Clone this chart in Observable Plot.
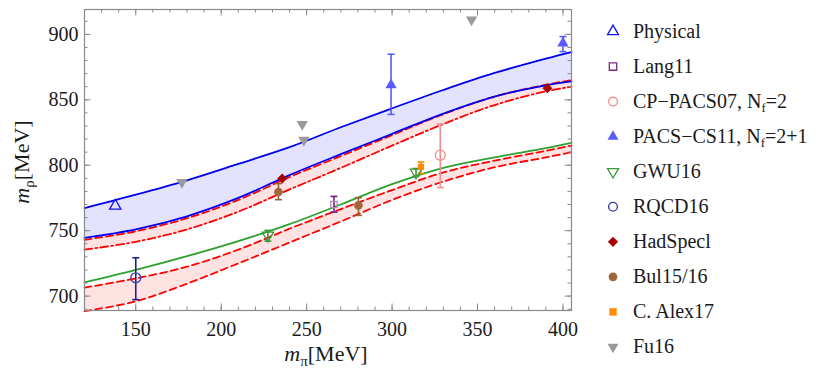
<!DOCTYPE html>
<html><head><meta charset="utf-8">
<script src="https://cdn.jsdelivr.net/npm/d3@7"></script>
<script src="https://cdn.jsdelivr.net/npm/@observablehq/plot@0.6"></script>
<style>
body{margin:0;background:#fff;}
#wrap{position:relative;width:830px;height:371px;}
#wrap svg{position:absolute;left:0;top:0;}
#wrap svg text{font-family:"Liberation Serif","Times New Roman",serif;}
</style></head><body><div id="wrap"></div>
<script>
// ---- curve data (m_pi in MeV -> m_rho in MeV) ----
const gridX      = [120, 150, 180, 210, 240, 270, 300, 330, 360, 390, 405];
const blueUpper  = [767.3, 777.5, 788.5, 801, 813.8, 829, 843.5, 857.5, 870.5, 881.5, 886.5];
const blueLower  = [744.5, 751, 761, 775, 792.5, 808.5, 824, 839.5, 852.5, 861, 864];
const redTopDash = [743, 749.5, 759.5, 773.5, 791, 807, 823, 839, 852.5, 861.5, 865];
const redTopDot  = [735.5, 741.5, 751, 764.5, 781.5, 798, 815, 831.5, 846, 856.5, 860];
const green      = [710.5, 720, 730.5, 742, 755, 770, 785.5, 798, 806, 813, 817];
const redLowUp   = [706.5, 713.5, 722.5, 735.5, 751.5, 766.5, 781, 794.5, 803.5, 811, 815];
const redLowDown = [688.5, 696, 709.5, 725, 741, 757, 773.5, 787.5, 798.5, 806, 810];

// ---- lattice points: [m_pi, m_rho, low, high] ----
const physical = [[138, 769]];
const lang11   = [[266, 770, 764.2, 776.2]];
const cppacs07 = [[328.2, 807.7, 782.9, 831.4]];
const pacscs11 = [[299.4, 861.3, 838.8, 884.8], [400, 893.3, 886.8, 898.3]];
const gwu16    = [[227.3, 746.4, 742, 750.2], [314, 794.5, 791.5, 797.5]];
const rqcd16   = [[150, 714, 697.3, 729.3]];
const hadspec  = [[235.7, 789.8], [390.9, 858.8]];
const bul1516  = [[233.5, 779.5, 773.7, 786], [280.3, 769.3, 761.7, 775.2]];
const alex17   = [[316.9, 798.7, 793.6, 802.5]];
const fu16     = [[177, 787], [248.4, 819.2], [247.4, 831.4], [346.5, 911.1]];

const xMajor = [150, 200, 250, 300, 350, 400];
const xMinor = d3.range(120, 406, 10);
const yMajor = [700, 750, 800, 850, 900];
const yMinor = d3.range(690, 920, 10);

const legendItems = [
  {label: ["Physical"], sym: "triangle", fill: "none", stroke: "#1010f0"},
  {label: ["Lang11"], sym: "square", fill: "none", stroke: "#7a2a7a"},
  {label: ["CP\u2212PACS07, N", "f", "=2"], sym: "circle", fill: "none", stroke: "#f09090"},
  {label: ["PACS\u2212CS11, N", "f", "=2+1"], sym: "triangle", fill: "#5a5aff", stroke: "none"},
  {label: ["GWU16"], sym: "triangleDown", fill: "none", stroke: "#3a9a3a"},
  {label: ["RQCD16"], sym: "circle", fill: "none", stroke: "#3030b0"},
  {label: ["HadSpecl"], sym: "diamond", fill: "#aa0000", stroke: "none"},
  {label: ["Bul15/16"], sym: "circle", fill: "#a0673c", stroke: "none"},
  {label: ["C. Alex17"], sym: "square", fill: "#ff8c00", stroke: "none"},
  {label: ["Fu16"], sym: "triangleDown", fill: "#9a9a9a", stroke: "none"}
];

// ---- build tables ----
const curves = gridX.map((x, i) => ({x, bu: blueUpper[i], bl: blueLower[i], rtd: redTopDash[i], rtt: redTopDot[i],
  g: green[i], rlu: redLowUp[i], rld: redLowDown[i]}));
const toPts = arr => arr.map(d => ({x: d[0], y: d[1], lo: d[2], hi: d[3]}));
const withErr = arr => toPts(arr).filter(d => d.lo !== undefined);

const cap = {draw(ctx) { ctx.moveTo(-3.5, 0); ctx.lineTo(3.5, 0); }};
function errBars(arr, color) {
  const e = withErr(arr);
  return [
    Plot.ruleX(e, {x: "x", y1: "lo", y2: "hi", stroke: color, strokeWidth: 1.6}),
    Plot.dot(e, {x: "x", y: "lo", symbol: cap, stroke: color, strokeWidth: 1.6, r: 3}),
    Plot.dot(e, {x: "x", y: "hi", symbol: cap, stroke: color, strokeWidth: 1.6, r: 3})
  ];
}

const W = 830, H = 371;
const mL = 84, mR = 830 - 571, mT = 9, mB = 371 - 310;
const innerH = H - mT - mB, innerW = W - mL - mR;
const frameColor = "#8a8a8a";

const svg = Plot.plot({
  width: W, height: H,
  marginLeft: mL, marginRight: mR, marginTop: mT, marginBottom: mB,
  x: {domain: [120, 405]},
  y: {domain: [689, 919]},
  style: {fontFamily: "Liberation Serif, serif", fontSize: "20px", color: "#1a1a1a", background: "transparent"},
  marks: [
    // bands
    Plot.areaY(curves, {x: "x", y1: "bl", y2: "bu", fill: "#0000ff", fillOpacity: 0.11, curve: "catmull-rom"}),
    Plot.areaY(curves, {x: "x", y1: "rtt", y2: "rtd", fill: "#ff0000", fillOpacity: 0.11, curve: "catmull-rom"}),
    Plot.areaY(curves, {x: "x", y1: "rld", y2: "rlu", fill: "#ff0000", fillOpacity: 0.11, curve: "catmull-rom"}),
    // lines
    Plot.line(curves, {x: "x", y: "rtd", stroke: "#ff0000", strokeWidth: 1.8, strokeDasharray: "7,4", curve: "catmull-rom"}),
    Plot.line(curves, {x: "x", y: "rtt", stroke: "#ff0000", strokeWidth: 1.8, strokeDasharray: "8,3,2,3", curve: "catmull-rom"}),
    Plot.line(curves, {x: "x", y: "bu", stroke: "#0000ee", strokeWidth: 1.8, curve: "catmull-rom"}),
    Plot.line(curves, {x: "x", y: "bl", stroke: "#0000ee", strokeWidth: 1.8, curve: "catmull-rom"}),
    Plot.line(curves, {x: "x", y: "g", stroke: "#2ea02e", strokeWidth: 1.8, curve: "catmull-rom"}),
    Plot.line(curves, {x: "x", y: "rlu", stroke: "#ff0000", strokeWidth: 1.8, strokeDasharray: "7,4", curve: "catmull-rom"}),
    Plot.line(curves, {x: "x", y: "rld", stroke: "#ff0000", strokeWidth: 1.8, strokeDasharray: "7,4", curve: "catmull-rom"}),
    // error bars
    ...errBars(lang11, "#7a1a7a"),
    ...errBars(cppacs07, "#f09090"),
    ...errBars(pacscs11, "#5a5aff"),
    ...errBars(gwu16, "#3a9a3a"),
    ...errBars(rqcd16, "#20208a"),
    ...errBars(bul1516, "#9a6030"),
    ...errBars(alex17, "#ff8c00"),
    // points
    Plot.dot(toPts(physical), {x: "x", y: "y", symbol: "triangle", r: 4.2, stroke: "#1010f0", fill: "none", strokeWidth: 1.3}),
    Plot.dot(toPts(lang11), {x: "x", y: "y", symbol: "square", r: 3.6, stroke: "#b888b8", fill: "none", strokeWidth: 1.3}),
    Plot.dot(toPts(cppacs07), {x: "x", y: "y", symbol: "circle", r: 5, stroke: "#f09090", fill: "none", strokeWidth: 1.3}),
    Plot.dot(toPts(pacscs11), {x: "x", y: "y", symbol: "triangle", r: 4.2, fill: "#5a5aff", stroke: "none"}),
    Plot.dot(toPts(gwu16), {x: "x", y: "y", symbol: "triangle", rotate: 180, r: 4.2, stroke: "#3a9a3a", fill: "none", strokeWidth: 1.3}),
    Plot.dot(toPts(rqcd16), {x: "x", y: "y", symbol: "circle", r: 5, stroke: "#4040b0", fill: "none", strokeWidth: 1.3}),
    Plot.dot(toPts(hadspec), {x: "x", y: "y", symbol: "diamond2", r: 4.5, fill: "#aa0000", stroke: "none"}),
    Plot.dot(toPts(bul1516), {x: "x", y: "y", symbol: "circle", r: 4.3, fill: "#a0673c", stroke: "none"}),
    Plot.dot(toPts(alex17), {x: "x", y: "y", symbol: "square", r: 3.5, fill: "#ff8c00", stroke: "none"}),
    Plot.dot(toPts(fu16), {x: "x", y: "y", symbol: "triangle", rotate: 180, r: 4.2, fill: "#9a9a9a", stroke: "none", clip: true}),
    // inward ticks on all four sides
    Plot.tickX(xMinor, {x: d => d, stroke: frameColor, insetTop: innerH - 3.5}),
    Plot.tickX(xMajor, {x: d => d, stroke: frameColor, insetTop: innerH - 6.5}),
    Plot.tickX(xMinor, {x: d => d, stroke: frameColor, insetBottom: innerH - 3.5}),
    Plot.tickX(xMajor, {x: d => d, stroke: frameColor, insetBottom: innerH - 6.5}),
    Plot.tickY(yMinor, {y: d => d, stroke: frameColor, insetRight: innerW - 3.5}),
    Plot.tickY(yMajor, {y: d => d, stroke: frameColor, insetRight: innerW - 6.5}),
    Plot.tickY(yMinor, {y: d => d, stroke: frameColor, insetLeft: innerW - 3.5}),
    Plot.tickY(yMajor, {y: d => d, stroke: frameColor, insetLeft: innerW - 6.5}),
    Plot.frame({stroke: frameColor, strokeWidth: 1.2}),
    Plot.axisX(xMajor, {tickSize: 0, tickPadding: 11, label: null, fontSize: 20}),
    Plot.axisY(yMajor, {tickSize: 0, tickPadding: 6, label: null, fontSize: 20})
  ]
});

document.getElementById("wrap").appendChild(svg);

// axis titles with italic m and Greek subscripts
const s = d3.select(svg);
const yl = s.append("text").attr("transform", "translate(29,162) rotate(-90)")
  .attr("text-anchor", "middle").attr("font-size", 22).attr("fill", "#1a1a1a");
yl.append("tspan").attr("font-style", "italic").text("m");
yl.append("tspan").attr("font-size", 15).attr("dy", 5).text("\u03C1");
yl.append("tspan").attr("dy", -5).text("[MeV]");
const xl = s.append("text").attr("x", 326).attr("y", 361)
  .attr("text-anchor", "middle").attr("font-size", 22).attr("fill", "#1a1a1a");
xl.append("tspan").attr("font-style", "italic").text("m");
xl.append("tspan").attr("font-size", 15).attr("dy", 5).text("\u03C0");
xl.append("tspan").attr("dy", -5).text("[MeV]");

// legend
const symMap = {triangle: d3.symbolTriangle, square: d3.symbolSquare, circle: d3.symbolCircle, diamond: d3.symbolSquare, triangleDown: d3.symbolTriangle};
const lg = s.append("g").attr("text-anchor", "start");
legendItems.forEach((it, i) => {
  const cy = 31.5 + 35.05 * i;
  const size = it.sym === "circle" ? 60 : it.sym === "square" ? 55 : 52;
  let rot = it.sym === "triangleDown" ? 180 : it.sym === "diamond" ? 45 : 0;
  lg.append("path").attr("d", d3.symbol(symMap[it.sym], size)())
    .attr("transform", `translate(613,${cy}) rotate(${rot})`)
    .attr("fill", it.fill).attr("stroke", it.stroke).attr("stroke-width", 1.3);
  const t = lg.append("text").attr("x", 633).attr("y", cy + 6).attr("text-anchor", "start")
    .attr("font-size", 20).attr("fill", "#1a1a1a");
  t.append("tspan").text(it.label[0]);
  if (it.label.length > 1) {
    t.append("tspan").attr("font-size", 13).attr("dy", 4).text(it.label[1]);
    t.append("tspan").attr("dy", -4).text(it.label[2]);
  }
});
</script></body></html>
